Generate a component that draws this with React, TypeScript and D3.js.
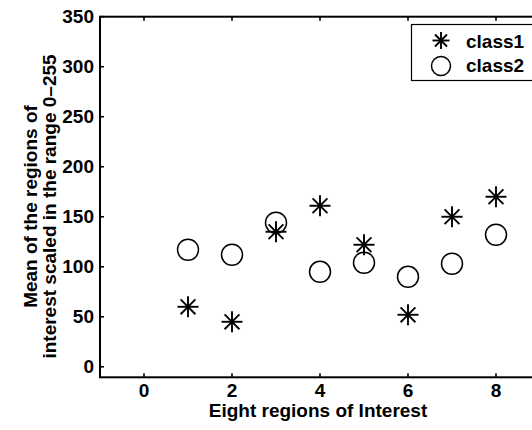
import React from "react";
import * as d3 from "d3";

const regions = [1, 2, 3, 4, 5, 6, 7, 8];
const class1 = [60, 45, 135, 161, 122, 52, 150, 170];
const class2 = [117, 112, 144, 95, 104, 90, 103, 132];
const xTicks = [0, 2, 4, 6, 8];
const yTicks = [0, 50, 100, 150, 200, 250, 300, 350];
const seriesNames = ["class1", "class2"];

const W = 532;
const H = 430;
const left = 100;
const top = 16.7;
const x = d3.scaleLinear().domain([-1, 9]).range([left, 540]);
const y = d3.scaleLinear().domain([-10.5, 350]).range([377.3, top]);

const FONT = "'Liberation Sans', Arial, Helvetica, sans-serif";
const FS = 19;

function Asterisk({ cx, cy, r }: { cx: number; cy: number; r: number }) {
  const d = r * Math.SQRT1_2;
  return (
    <g stroke="#000" strokeWidth={1.9}>
      <line x1={cx - r} y1={cy} x2={cx + r} y2={cy} />
      <line x1={cx} y1={cy - r} x2={cx} y2={cy + r} />
      <line x1={cx - d} y1={cy - d} x2={cx + d} y2={cy + d} />
      <line x1={cx - d} y1={cy + d} x2={cx + d} y2={cy - d} />
    </g>
  );
}

export default function App() {
  const x0 = x.range()[0];
  const x1 = x.range()[1];
  const y0 = y.range()[0];
  const y1 = y.range()[1];
  return (
    <svg
      width={W}
      height={H}
      style={{ position: "absolute", left: 0, top: 0, background: "#fff" }}
      fontFamily={FONT}
    >
      <rect x={0} y={0} width={W} height={H} fill="#fff" />
      {/* axes box */}
      <rect x={x0} y={y1} width={x1 - x0} height={y0 - y1} fill="none" stroke="#000" strokeWidth={2} />
      {/* x ticks */}
      {xTicks.map((t) => (
        <g key={"x" + t}>
          <line x1={x(t)} x2={x(t)} y1={y0} y2={y0 - 4} stroke="#000" strokeWidth={1.6} />
          <line x1={x(t)} x2={x(t)} y1={y1} y2={y1 + 4} stroke="#000" strokeWidth={1.6} />
          <text x={x(t)} y={397} textAnchor="middle" fontSize={FS} fontWeight="bold">
            {t}
          </text>
        </g>
      ))}
      {/* y ticks */}
      {yTicks.map((t) => (
        <g key={"y" + t}>
          <line x1={x0} x2={x0 + 4} y1={y(t)} y2={y(t)} stroke="#000" strokeWidth={1.6} />
          <text x={94} y={y(t) + 6.5} textAnchor="end" fontSize={FS} fontWeight="bold">
            {t}
          </text>
        </g>
      ))}
      {/* data */}
      {regions.map((r, i) => (
        <circle key={"c" + i} cx={x(r)} cy={y(class2[i])} r={10.5} fill="none" stroke="#000" strokeWidth={1.5} />
      ))}
      {regions.map((r, i) => (
        <Asterisk key={"a" + i} cx={x(r)} cy={y(class1[i])} r={10.5} />
      ))}
      {/* legend */}
      <rect x={411.5} y={24.5} width={130} height={56} fill="#fff" stroke="#000" strokeWidth={1.2} />
      <Asterisk cx={441} cy={40.5} r={8.5} />
      <circle cx={441} cy={66} r={9.5} fill="none" stroke="#000" strokeWidth={1.5} />
      <text x={466} y={47.5} fontSize={FS} fontWeight="bold">{seriesNames[0]}</text>
      <text x={466} y={71.5} fontSize={FS} fontWeight="bold">{seriesNames[1]}</text>
      {/* x label */}
      <text x={318} y={417} textAnchor="middle" fontSize={FS} fontWeight="bold">
        Eight regions of Interest
      </text>
      {/* y label */}
      <g transform="translate(0,206.5) rotate(-90)">
        <text x={0} y={36.5} textAnchor="middle" fontSize={FS} fontWeight="bold">
          Mean of the regions of
        </text>
        <text x={0} y={56} textAnchor="middle" fontSize={FS} fontWeight="bold">
          interest scaled in the range 0–255
        </text>
      </g>
    </svg>
  );
}
